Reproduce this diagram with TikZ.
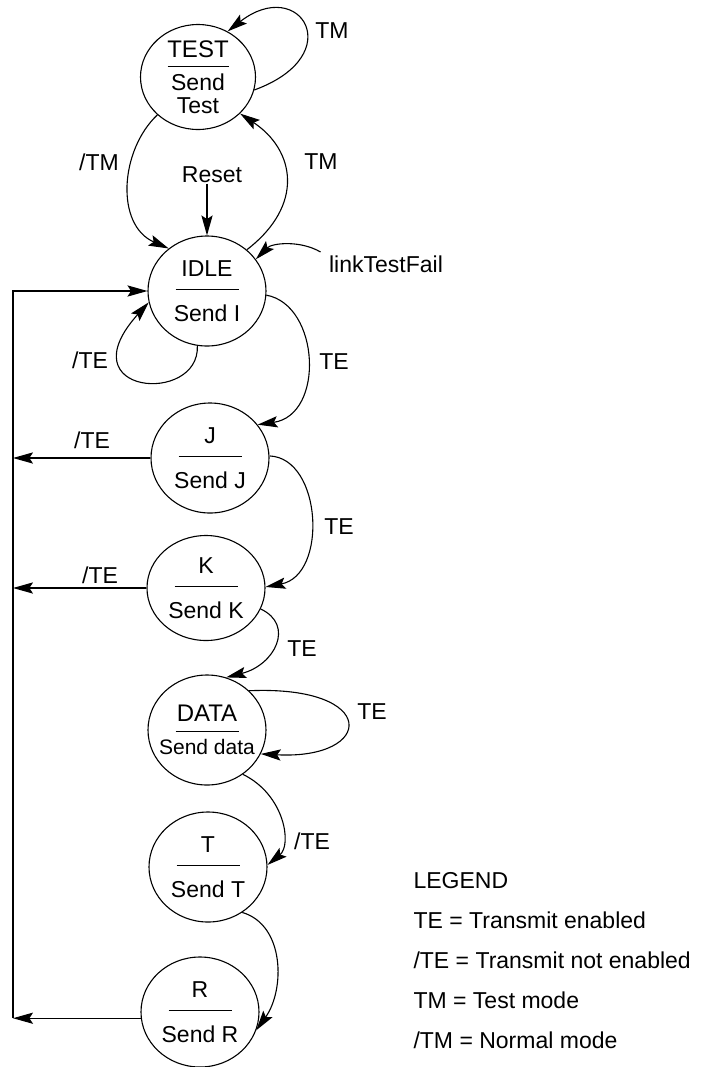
\documentclass[tikz,border=0pt]{standalone}
\usepackage{fontspec}
\setmainfont{Liberation Sans}
\usepackage{tikz}
\usetikzlibrary{arrows.meta,shapes.geometric,calc}
% state label: name, bar, output
\newcommand{\lsname}[2]{\makebox[0pt]{#1}\\[-7.1pt]\makebox[0pt]{\rule{31.5pt}{0.5pt}}\\[2.1pt]\makebox[0pt]{#2}}
\tikzset{
lsstate/.style={ellipse,draw,align=center,inner sep=0pt,minimum width=59pt,minimum height=55pt},
lsarr/.style={-{Stealth[length=10pt,width=5.6pt,inset=1.8pt]}},
lslabel/.style={inner sep=0pt},
lslegend/.style={align=left,inner sep=0pt,anchor=north west,font=\fontsize{11.5pt}{20pt}\selectfont}
}

\begin{document}
\begin{tikzpicture}[
x=0.5pt,
y=-0.5pt,
line width=0.55pt,
every node/.style={font=\fontsize{11.5pt}{13.8pt}\selectfont}
]
\useasboundingbox (0,0) rectangle (702,1067);
% states
\node[lsstate,minimum width=57.5pt,minimum height=52.5pt]
  (test) at (198,77) {\makebox[0pt]{\fontsize{12pt}{14pt}\selectfont TEST}\\[-8.8pt]\makebox[0pt]{\rule{30.5pt}{0.5pt}}\\[-2.1pt]\makebox[0pt]{Send}\\[-2.6pt]\makebox[0pt]{Test}};
\node[lsstate] (idle) at (207,291) {\lsname{IDLE}{Send I}};
\node[lsstate] (j) at (210,458) {\lsname{J}{Send J}};
\node[lsstate,minimum height=52.5pt] (k) at (206,588) {\lsname{K}{Send K}};
\node[lsstate]
  (data) at (207,730) {\makebox[0pt]{\fontsize{12pt}{14pt}\selectfont DATA}\\[-8.6pt]\makebox[0pt]{\rule{31.5pt}{0.5pt}}\\[-2.6pt]\makebox[0pt]{\fontsize{10.5pt}{12pt}\selectfont Send data}};
\node[lsstate] (t) at (208,867) {\lsname{T}{Send T}};
\node[lsstate] (r) at (200,1012) {\lsname{R}{Send R}};
% labels
\node[lslabel] (tmloop) at (332,31) {TM};
\node[lslabel] (tmoff) at (99,162) {/TM};
\node[lslabel] (reset) at (212,175) {Reset};
\node[lslabel] (tmon) at (321,162) {TM};
\node[lslabel] (ltf) at (386,264) {linkTestFail};
\node[lslabel] (idlete) at (90,360) {/TE};
\node[lslabel] (idleto) at (334,362) {TE};
\node[lslabel] (jback) at (92,440) {/TE};
\node[lslabel] (jto) at (339,527) {TE};
\node[lslabel] (kback) at (100,575) {/TE};
\node[lslabel] (kto) at (302,649) {TE};
\node[lslabel] (dataloop) at (372,712) {TE};
\node[lslabel] (datato) at (312,841) {/TE};
\node[lslegend] (legend) at (413,872) {LEGEND\\TE = Transmit enabled\\/TE = Transmit not enabled\\TM = Test mode\\/TM = Normal mode};
% transitions
\draw[lsarr] (test.-13) .. controls (350,55) and (300,-25) .. (test.57);
\draw[lsarr] (test.-137) .. controls (120,150) and (115,225) .. (idle.132);
\draw[lsarr] (idle.46) .. controls (305,205) and (295,150) .. (test.-41);
\draw[lsarr] (reset.south -| idle.north) -- (idle.north);
\draw[lsarr] ([shift={(-4pt,6pt)}]ltf.west) .. controls (300,240) and (272,243) .. (idle.33);
\draw[lsarr] (idle.-100) .. controls (200,405) and (65,395) .. (idle.191);
\draw[lsarr] (idle.-4) .. controls (320,305) and (325,415) .. (j.35);
\draw[lsarr] (j.2) .. controls (322,458) and (328,575) .. (k.1);
\draw[lsarr] (k.-21) .. controls (295,625) and (275,665) .. (data.70);
\draw[lsarr] (data.43) .. controls (380,685) and (375,760) .. (data.-24);
\draw[lsarr] (data.-51) .. controls (285,795) and (292,845) .. (t.2);
\draw[lsarr] (t.-53) .. controls (285,925) and (285,990) .. (r.-18);
% return bus
\coordinate (bus) at (13,292);
\draw[lsarr] (j.west) -- (j.west -| bus);
\draw[lsarr] (k.west) -- (k.west -| bus);
\draw[lsarr] (r.186) -- (r.186 -| bus);
\draw[lsarr] (r.186 -| bus) -- (bus |- idle.west) -- (idle.west);
\end{tikzpicture}
\end{document}
